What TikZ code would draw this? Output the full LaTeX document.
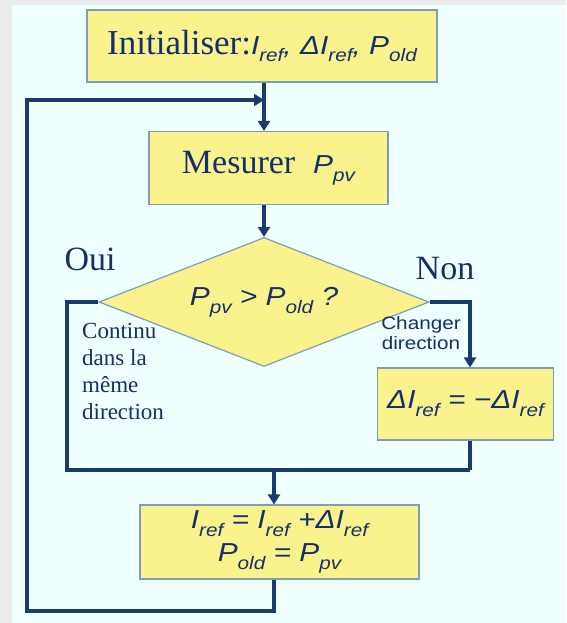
\documentclass[tikz,border=0pt]{standalone}
\usepackage{fontspec}
\setmainfont{Liberation Serif}
\newfontfamily\arial{Liberation Sans}
\newfontfamily\arialw[FakeStretch=1.15]{Liberation Sans}
\usetikzlibrary{shapes.geometric,arrows.meta,calc}
\definecolor{bgc}{HTML}{F0FFFF}
\definecolor{boxfill}{HTML}{FAF28C}
\definecolor{boxline}{HTML}{7F9DB9}
\definecolor{navy}{HTML}{1A3A6E}
\definecolor{txt}{HTML}{14306A}
\newcommand\subtxt[1]{\raisebox{-0.3em}{\fontsize{18}{18}\selectfont #1}}
\newcommand\mtxt[1]{{\arialw\itshape\fontsize{26}{34}\selectfont #1}}
\tikzset{
  procbox/.style={draw=boxline, line width=1.2pt, fill=boxfill, rectangle, inner sep=0pt, text=txt},
  decbox/.style={draw=boxline, line width=1.2pt, fill=boxfill, diamond, shape aspect=2.56, inner sep=0pt, text=txt},
  flowline/.style={draw=navy, line width=3.4pt},
  flow/.style={flowline, -{Triangle[length=10pt,width=12pt]}},
  lbl/.style={text=txt, inner sep=0pt}
}
\begin{document}
\begin{tikzpicture}[x=1pt,y=-1pt]
\useasboundingbox (0,0) rectangle (566,623);
\fill[gray!15] (0,0) rectangle (566,623);
\fill[bgc] (12,5) rectangle (566,623);
% nodes
\node[procbox, minimum width=350pt, minimum height=72pt] (init) at (262,46)
  {\fontsize{35}{40}\selectfont Initialiser:\mtxt{I\subtxt{ref}, ΔI\subtxt{ref}, P\subtxt{old}}\hspace{28pt}};
\node[procbox, minimum width=239pt, minimum height=73pt] (mes) at (268.5,168)
  {\fontsize{34}{40}\selectfont Mesurer\hspace{18pt}\mtxt{P\subtxt{pv}}\hspace{10pt}};
\node[decbox, minimum width=330pt, minimum height=129pt] (dia) at (264,302)
  {\mtxt{P\subtxt{pv} > P\subtxt{old} ?}};
\node[procbox, minimum width=176pt, minimum height=72pt] (dl) at (465.5,404)
  {\mtxt{ΔI\subtxt{ref} = −ΔI\subtxt{ref}}};
\node[procbox, minimum width=279pt, minimum height=74pt, align=center,
  font=\arialw\itshape\fontsize{26}{33}\selectfont] (bot) at (279.5,542)
  {I\subtxt{ref} = I\subtxt{ref} +ΔI\subtxt{ref}\hspace{6pt}\\ P\subtxt{old} = P\subtxt{pv}\hspace{6pt}};
% labels
\node[lbl, font=\fontsize{34}{40}\selectfont] (oui) at (90,259) {Oui};
\node[lbl, font=\fontsize{34}{40}\selectfont] (non) at (445,269) {Non};
\node[lbl, anchor=north west, align=left, font=\fontsize{23}{27}\selectfont] (cont) at (82,323)
  {Continu\\dans la\\même\\direction};
\node[lbl, anchor=north, align=center, font=\arialw\fontsize{18}{20}\selectfont] (chg) at (421,316)
  {Changer\\direction};
% coordinates
\coordinate (jl) at (67,470);
\coordinate (jr) at (470,470);
\coordinate (j) at (274,470);
\coordinate (lb) at (27,611);
\coordinate (lt) at (27,100);
% connectors
\draw[flow] (init.south -| dia.north) -- (mes.north -| dia.north);
\draw[flow] (mes.south -| dia.north) -- (dia.north);
\draw[flowline] (dia.west) -| (jl) -- (jr);
\draw[flow] (dia.east) -| (dl.north -| jr);
\draw[flowline] (dl.south -| jr) -- (jr);
\draw[flow] (j) -- (bot.north -| j);
\draw[flow] (bot.south -| j) |- (lb) -- (lt) -- (lt -| dia.north);
\end{tikzpicture}
\end{document}
